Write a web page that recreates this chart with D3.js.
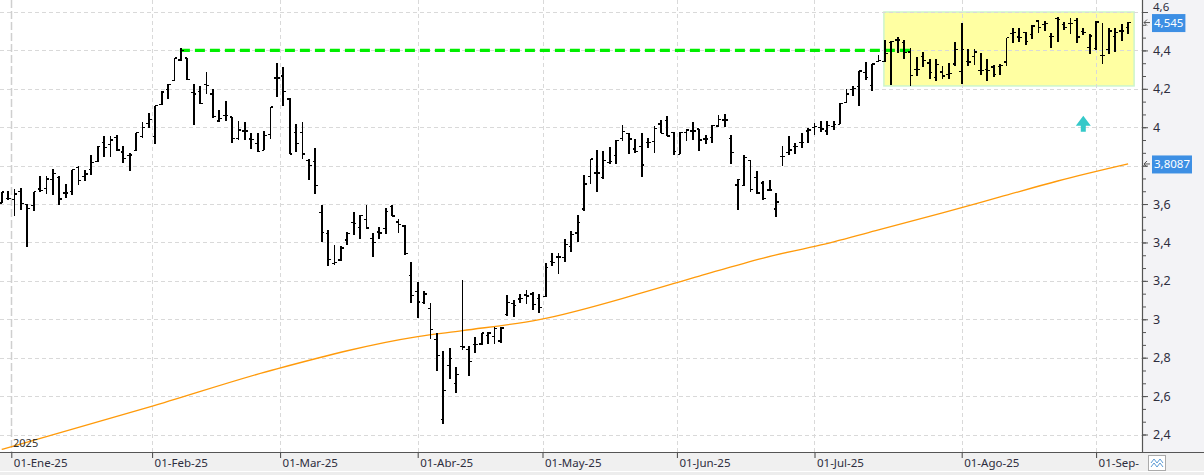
<!DOCTYPE html>
<html>
<head>
<meta charset="utf-8">
<script src="https://cdn.jsdelivr.net/npm/d3@7"></script>
<style>
  body { margin: 0; background: #fff; }
  svg { display: block; font-family: "Noto Sans", sans-serif; }
</style>
</head>
<body>
<svg id="chart" width="1204" height="475"></svg>
<script>

// daily OHLC, one value per trading day from 30-Dic-24 to 08-Sep-25
const opens = [3.606,3.628,3.623,3.664,3.597,3.594,3.679,3.68,3.728,3.74,3.658,3.664,3.79,3.742,3.78,3.82,3.92,3.911,3.946,3.871,
  3.852,3.878,3.95,4.021,3.95,4.117,4.198,4.243,4.35,4.36,4.182,4.185,4.222,4.173,4.032,4.06,4.054,3.943,3.98,3.939,
  3.917,3.88,3.962,4.257,4.266,4.147,3.971,3.971,3.828,3.82,3.555,3.447,3.291,3.309,3.413,3.503,3.478,3.52,3.421,3.454,
  3.473,3.589,3.506,3.485,3.227,3.144,3.087,3.057,2.896,2.478,2.759,2.664,2.86,2.844,2.868,2.872,2.915,2.912,2.887,3.024,
  3.082,3.106,3.127,3.132,3.109,3.118,3.30,3.324,3.32,3.38,3.449,3.574,3.744,3.761,3.74,3.816,3.853,3.943,3.969,3.887,
  3.90,3.92,3.927,4.017,4.035,3.974,3.858,3.974,3.981,3.991,3.938,3.948,4.007,4.038,3.943,3.699,3.695,3.827,3.74,3.709,
  3.673,3.574,3.847,3.87,3.898,3.919,3.981,3.997,4.0,3.98,4.005,4.016,4.129,4.196,4.213,4.286,4.217,4.344,4.341,4.442,
  4.454,4.44,4.391,4.30,4.37,4.335,4.26,4.287,4.275,4.33,4.292,4.344,4.367,4.296,4.30,4.313,4.318,4.339,4.489,4.47,
  4.492,4.483,4.553,4.536,4.471,4.565,4.536,4.541,4.555,4.497,4.414,4.409,4.374,4.405,4.471,4.501,4.518];
const highs = [3.662,3.670,3.676,3.681,3.601,3.664,3.744,3.744,3.784,3.744,3.702,3.779,3.80,3.777,3.854,3.903,3.953,3.955,3.957,3.90,
  3.868,3.972,4.028,4.074,4.112,4.187,4.224,4.36,4.412,4.36,4.224,4.213,4.287,4.198,4.089,4.136,4.054,4.033,4.027,3.969,
  3.969,3.978,4.105,4.335,4.314,4.153,4.019,4.029,3.835,3.894,3.593,3.465,3.385,3.38,3.456,3.556,3.544,3.593,3.451,3.478,
  3.577,3.594,3.523,3.489,3.296,3.192,3.146,3.083,2.926,2.837,2.849,2.754,3.206,2.86,2.906,2.931,2.932,2.958,2.958,3.128,
  3.102,3.132,3.151,3.14,3.13,3.291,3.345,3.347,3.42,3.46,3.545,3.751,3.834,3.882,3.874,3.896,3.932,4.012,3.971,3.939,
  3.971,3.945,4.007,4.04,4.059,3.977,3.974,3.99,4.026,3.991,3.96,4.01,4.062,4.068,3.962,3.73,3.855,3.83,3.773,3.718,
  3.726,3.657,3.90,3.952,3.917,3.971,3.995,4.021,4.03,4.035,4.03,4.124,4.197,4.215,4.293,4.341,4.33,4.376,4.454,4.447,
  4.47,4.452,4.41,4.365,4.391,4.356,4.357,4.318,4.336,4.443,4.541,4.405,4.409,4.388,4.353,4.323,4.327,4.466,4.518,4.518,
  4.497,4.53,4.556,4.555,4.492,4.576,4.55,4.57,4.57,4.518,4.483,4.553,4.541,4.518,4.518,4.536,4.548];
const lows = [3.606,3.623,3.536,3.567,3.374,3.562,3.662,3.653,3.648,3.595,3.632,3.646,3.70,3.718,3.753,3.819,3.847,3.845,3.876,3.814,
  3.772,3.878,3.946,3.997,3.913,4.116,4.147,4.24,4.344,4.248,4.011,4.119,4.171,4.046,4.025,4.033,3.918,3.934,3.934,3.889,
  3.871,3.88,3.941,4.159,4.112,3.861,3.87,3.834,3.724,3.652,3.40,3.277,3.281,3.303,3.387,3.439,3.416,3.471,3.326,3.418,
  3.445,3.537,3.449,3.333,3.085,3.005,3.082,2.896,2.73,2.456,2.69,2.617,2.842,2.705,2.825,2.865,2.872,2.872,2.879,3.016,
  3.012,3.085,3.078,3.049,3.035,3.114,3.276,3.238,3.30,3.35,3.40,3.562,3.706,3.661,3.733,3.809,3.808,3.926,3.86,3.868,
  3.74,3.891,3.865,3.969,3.953,3.855,3.858,3.926,3.936,3.874,3.912,3.92,4.003,4.0,3.811,3.567,3.692,3.664,3.65,3.619,
  3.667,3.532,3.796,3.855,3.858,3.894,3.917,3.957,3.975,3.96,3.985,4.016,4.126,4.164,4.113,4.248,4.19,4.339,4.341,4.22,
  4.386,4.356,4.213,4.269,4.314,4.253,4.243,4.249,4.252,4.318,4.223,4.318,4.323,4.27,4.24,4.263,4.27,4.318,4.44,4.445,
  4.426,4.461,4.492,4.50,4.414,4.445,4.504,4.483,4.44,4.48,4.379,4.402,4.327,4.379,4.391,4.449,4.487];
const closes = [3.662,3.628,3.653,3.602,3.576,3.664,3.672,3.73,3.76,3.627,3.658,3.779,3.723,3.756,3.815,3.90,3.894,3.934,3.882,3.838,
  3.856,3.972,3.999,4.042,4.112,4.184,4.222,4.36,4.40,4.248,4.173,4.124,4.218,4.056,4.046,4.06,3.943,3.986,3.98,3.937,
  3.875,3.958,4.105,4.257,4.185,3.861,3.915,3.861,3.80,3.697,3.451,3.31,3.296,3.371,3.445,3.497,3.541,3.475,3.399,3.449,
  3.563,3.537,3.494,3.343,3.123,3.09,3.132,2.948,2.81,2.629,2.797,2.711,2.856,2.78,2.87,2.929,2.929,2.953,2.955,3.087,
  3.071,3.108,3.121,3.076,3.062,3.269,3.296,3.324,3.39,3.44,3.505,3.704,3.834,3.761,3.825,3.82,3.932,3.979,3.939,3.874,
  3.803,3.92,3.995,3.969,3.955,3.872,3.974,3.986,3.981,3.934,3.938,4.01,4.04,4.038,3.868,3.726,3.842,3.674,3.657,3.628,
  3.673,3.61,3.846,3.882,3.90,3.92,3.986,4.005,3.99,4.01,4.015,4.122,4.173,4.203,4.293,4.26,4.33,4.348,4.383,4.445,
  4.454,4.388,4.269,4.30,4.349,4.286,4.325,4.266,4.28,4.405,4.405,4.339,4.391,4.296,4.297,4.275,4.323,4.466,4.492,4.466,
  4.445,4.527,4.518,4.54,4.471,4.562,4.518,4.541,4.47,4.492,4.475,4.548,4.374,4.501,4.492,4.501,4.545];

// 200-session moving average read at a few sessions (index, value)
const maIndex = [0, 23, 43, 65, 72, 84, 100, 109, 119, 128, 137, 147, 156, 165, 176];
const maValue = [2.322, 2.542, 2.742, 2.910, 2.941, 2.998, 3.137, 3.225, 3.319, 3.387, 3.465, 3.554, 3.637, 3.72, 3.8087];

const holidays = ["2025-01-01", "2025-04-18", "2025-04-21", "2025-05-01"];
const monthLabels = ["01-Ene-25","01-Feb-25","01-Mar-25","01-Abr-25","01-May-25","01-Jun-25","01-Jul-25","01-Ago-25","01-Sep-"];
const yMajor = [2.4, 2.6, 2.8, 3.0, 3.2, 3.4, 3.6, 3.8, 4.0, 4.2, 4.4, 4.6];

// annotations
const resLevel = 4.40, resFrom = 28, resTo = 142;
const zoneFrom = 138, zoneTo = 176, zoneTop = 4.60, zoneBottom = 4.215;
const signalIdx = 169, signalVal = 4.06;

const plotRight = 1142, plotBottom = 452;
const svg = d3.select("#chart");

// trading calendar
const fmt = d3.timeFormat("%Y-%m-%d");
const days = [];
for (let d = new Date(2024, 11, 30); days.length < closes.length; d = d3.timeDay.offset(d, 1)) {
  const wd = d.getDay();
  if (wd === 0 || wd === 6 || holidays.includes(fmt(d))) continue;
  days.push(d);
}
const monthStarts = d3.timeMonth.range(new Date(2025, 0, 1), new Date(2025, 8, 2));
const tickIdx = monthStarts.map(m => {
  const i = days.findIndex(d => d >= m);
  return +days[i] === +m ? i : i - 0.5;
});

const x = d3.scaleLinear().domain([0, days.length - 1]).range([1.7, 1128.1]);
const y = d3.scaleLinear().domain([2.4, 4.6]).range([434.5, 12]);

// backgrounds
svg.append("rect").attr("width", 1204).attr("height", 475).attr("fill", "#fff");
svg.append("rect").attr("x", plotRight).attr("y", 0).attr("width", 1204 - plotRight).attr("height", plotBottom).attr("fill", "#f3f3f6");
svg.append("rect").attr("x", 0).attr("y", plotBottom).attr("width", 1204).attr("height", 19).attr("fill", "#f0f0f0");
svg.append("rect").attr("x", 0).attr("y", 472).attr("width", 1204).attr("height", 3).attr("fill", "#ededed");

svg.append("clipPath").attr("id", "plot").append("rect").attr("width", plotRight).attr("height", plotBottom);
const plot = svg.append("g").attr("clip-path", "url(#plot)");

// yellow zone
plot.append("rect")
  .attr("x", x(zoneFrom) - 1).attr("y", y(zoneTop))
  .attr("width", x(zoneTo) - x(zoneFrom) + 7).attr("height", y(zoneBottom) - y(zoneTop))
  .attr("fill", "#ffffa2").attr("stroke", "#ccf5cc").attr("stroke-width", 1.5);

// grid
plot.append("g").selectAll("line").data(yMajor).join("line")
  .attr("x1", 0).attr("x2", plotRight).attr("y1", d => Math.round(y(d)) + 0.5).attr("y2", d => Math.round(y(d)) + 0.5)
  .attr("stroke", "#d9d9d9").attr("stroke-dasharray", "4,3");
plot.append("g").selectAll("line").data(tickIdx).join("line")
  .attr("x1", d => Math.round(x(d)) + 0.5).attr("x2", d => Math.round(x(d)) + 0.5).attr("y1", 0).attr("y2", plotBottom)
  .attr("stroke", (d, i) => i === 0 ? "#cfcfcf" : "#d9d9d9")
  .attr("stroke-width", (d, i) => i === 0 ? 1.5 : 1)
  .attr("stroke-dasharray", (d, i) => i === 0 ? "8,3" : "4,3");

// moving average
plot.append("path")
  .datum(maIndex.map((d, i) => [d, maValue[i]]))
  .attr("fill", "none").attr("stroke", "#ff9a0a").attr("stroke-width", 1.3)
  .attr("d", d3.line().x(d => x(d[0])).y(d => y(d[1])).curve(d3.curveMonotoneX));

// resistance line
plot.append("line")
  .attr("x1", x(resFrom) - 1).attr("x2", x(resTo)).attr("y1", y(resLevel)).attr("y2", y(resLevel))
  .attr("stroke", "#00ee00").attr("stroke-width", 3.2).attr("stroke-dasharray", "10,5");

// OHLC bars
const data = closes.map((c, i) => ({ i, o: opens[i], h: highs[i], l: lows[i], c }));
const bars = plot.append("g").attr("stroke", "#000").attr("shape-rendering", "crispEdges")
  .selectAll("g").data(data).join("g");
bars.append("line").attr("stroke-width", 1.8)
  .attr("x1", d => x(d.i)).attr("x2", d => x(d.i)).attr("y1", d => y(d.h)).attr("y2", d => y(d.l));
bars.append("line").attr("stroke-width", 1.3)
  .attr("x1", d => x(d.i) - 2.6).attr("x2", d => x(d.i)).attr("y1", d => y(d.o)).attr("y2", d => y(d.o));
bars.append("line").attr("stroke-width", 1.3)
  .attr("x1", d => x(d.i)).attr("x2", d => x(d.i) + 2.6).attr("y1", d => y(d.c)).attr("y2", d => y(d.c));

// buy signal arrow
plot.append("path")
  .attr("transform", `translate(${x(signalIdx)},${y(signalVal)})`)
  .attr("d", "M0,0 L-7.5,10 L-2.5,10 L-2.5,16 L2.5,16 L2.5,10 L7.5,10 Z")
  .attr("fill", "#35c9c9");

plot.append("text").attr("x", 13).attr("y", 447).attr("font-size", 11).attr("fill", "#333").text("2025");

// price tags (values shown over the axis)
const tagVals = [closes[closes.length - 1], maValue[maValue.length - 1]];
const tags = [tagVals[0].toFixed(3).replace(".", ","), tagVals[1].toFixed(4).replace(".", ",")];

// right axis; labels hidden under a price tag are left out
const yAxis = svg.append("g").attr("transform", `translate(${plotRight},0)`)
  .call(d3.axisRight(y).tickValues(yMajor).tickSize(6).tickPadding(5)
    .tickFormat(d => tagVals.some(v => Math.abs(y(v) - y(d)) < 8) ? "" : d3.format(".1~f")(d).replace(".", ",")));
yAxis.select(".domain").remove();
yAxis.selectAll("text").attr("font-size", 12.5).attr("fill", "#2e2e3e").attr("font-family", "Noto Sans");
yAxis.selectAll(".tick line").attr("stroke", "#555");
yAxis.selectAll(".tick").filter(d => d === 4.6).select("text").attr("font-size", 11.5).attr("dy", "-0.12em");
const yMinor = d3.range(0, 34).map(k => 2.4 + k * 0.2 / 3).filter(v => v < 4.65);
svg.append("g").attr("transform", `translate(${plotRight},0)`)
  .call(d3.axisRight(y).tickValues(yMinor).tickSize(4).tickFormat(""))
  .call(g => g.select(".domain").remove())
  .selectAll(".tick line").attr("stroke", "#555");
svg.append("line").attr("x1", plotRight + 0.5).attr("x2", plotRight + 0.5).attr("y1", 0).attr("y2", plotBottom)
  .attr("stroke", "#555").attr("stroke-width", 1.2);

// bottom axis
const xAxis = svg.append("g").attr("transform", `translate(0,${plotBottom})`)
  .call(d3.axisBottom(x).tickValues(tickIdx).tickSize(6).tickFormat((d, i) => monthLabels[i]));
xAxis.select(".domain").remove();
xAxis.selectAll(".tick line").attr("stroke", "#444");
xAxis.selectAll("text").attr("text-anchor", "start").attr("dx", 2).attr("y", 7)
  .attr("font-size", 11.5).attr("fill", "#2e2e3e").attr("font-family", "Noto Sans");
svg.append("line").attr("x1", 0).attr("x2", 1204).attr("y1", plotBottom + 0.5).attr("y2", plotBottom + 0.5)
  .attr("stroke", "#555").attr("stroke-width", 1.2);

tagVals.forEach((v, i) => {
  const g = svg.append("g").attr("transform", `translate(0,${y(v)})`);
  const r = g.append("rect").attr("x", 1152).attr("y", -8.5).attr("height", 18).attr("fill", "#3d8fe4");
  const t = g.append("text").attr("x", 1154).attr("y", 4.2).attr("font-size", 11.5).attr("fill", "#fff").text(tags[i]);
  r.attr("width", t.node().getComputedTextLength() + 4);
  g.append("path").attr("d", "M1150,0 L1144,0 M1147,-3 L1144,0 L1147,3").attr("fill", "none").attr("stroke", "#555");
});

// small corner icon
const icon = svg.append("g");
icon.append("rect").attr("x", 1148.5).attr("y", 455.5).attr("width", 17).attr("height", 15).attr("fill", "#fff").attr("stroke", "#aaa");
icon.append("path").attr("d", "M1151,463 L1154,459 L1157,463 L1160,459 L1163,463 M1151,467 L1154,463 L1157,467 L1160,463 L1163,467")
  .attr("fill", "none").attr("stroke", "#5b9bd5").attr("stroke-width", 1);

</script>
</body>
</html>
